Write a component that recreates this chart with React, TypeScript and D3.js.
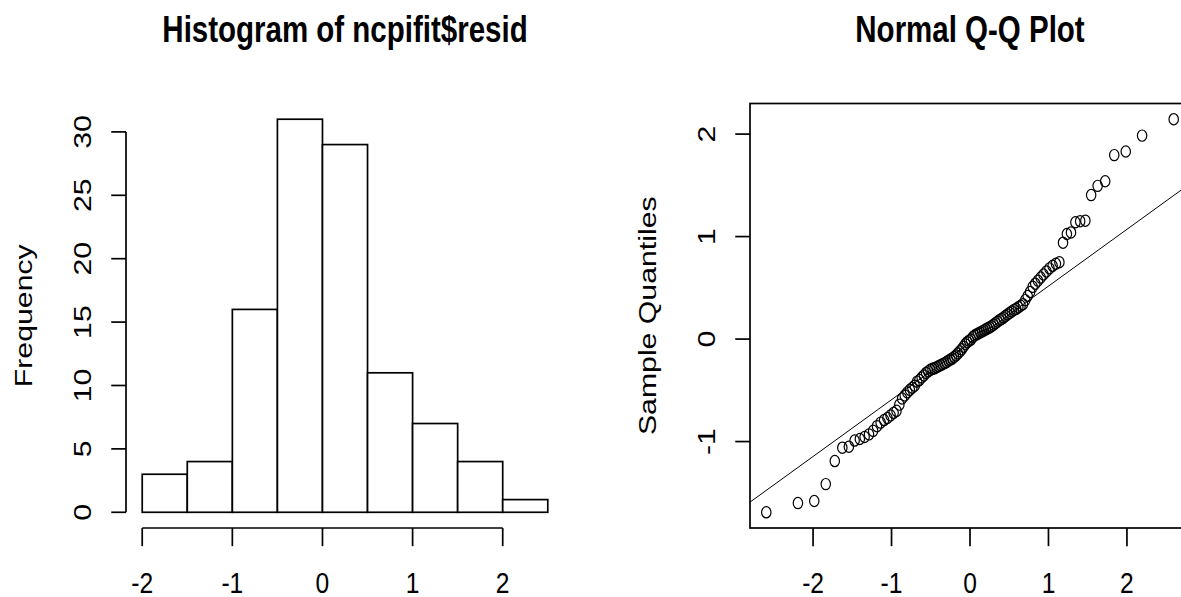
import React from "react";
import * as d3 from "d3";

// ---------- data ----------
const binEdges = [-2, -1.5, -1, -0.5, 0, 0.5, 1, 1.5, 2, 2.5];
const binCounts = [3, 4, 16, 31, 29, 11, 7, 4, 1];
const histXTicks = [-2, -1, 0, 1, 2];
const histYTicks = [0, 5, 10, 15, 20, 25, 30];
const qqXTicks = [-2, -1, 0, 1, 2];
const qqYTicks = [-1, 0, 1, 2];

// sorted residuals
const sampleQuantiles = [
  -1.69, -1.6, -1.58, -1.415, -1.19, -1.06, -1.05,
  -0.99, -0.975, -0.955, -0.93, -0.895, -0.85, -0.815, -0.79, -0.77, -0.745, -0.72, -0.7, -0.64, -0.58, -0.55, -0.52,
  -0.495, -0.475, -0.455, -0.415, -0.4, -0.375, -0.355, -0.33, -0.315, -0.3, -0.29, -0.285, -0.275, -0.265, -0.255,
  -0.245, -0.235, -0.225, -0.21, -0.2, -0.19, -0.175, -0.16, -0.14, -0.12, -0.1, -0.075, -0.05, -0.03, -0.015, -0.005,
  0.02, 0.035, 0.045, 0.055, 0.065, 0.075, 0.085, 0.095, 0.105, 0.115, 0.125, 0.14, 0.155, 0.17, 0.185, 0.195, 0.21,
  0.225, 0.24, 0.255, 0.27, 0.285, 0.295, 0.31, 0.325, 0.34, 0.38, 0.42, 0.46,
  0.51, 0.54, 0.57, 0.6, 0.63, 0.66, 0.69, 0.715, 0.735, 0.75, 0.94,
  1.025, 1.04, 1.14, 1.15, 1.155, 1.405, 1.495,
  1.54, 1.795, 1.83, 1.985,
  2.145,
];

// ---------- helpers ----------
const SY = 1.23; // vertical stretch of the original picture
const FONT = "'Liberation Sans', Arial, Helvetica, sans-serif";
const AXIS_FS = 24.6;
const TITLE_FS = 29.5;
const LINE = AXIS_FS * 1.2;

function qnorm(p: number): number {
  const a = [-3.969683028665376e1, 2.209460984245205e2, -2.759285104469687e2, 1.38357751867269e2, -3.066479806614716e1, 2.506628277459239];
  const b = [-5.447609879822406e1, 1.615858368580409e2, -1.556989798598866e2, 6.680131188771972e1, -1.328068155288572e1];
  const c = [-7.784894002430293e-3, -3.223964580411365e-1, -2.400758277161838, -2.549732539343734, 4.374664141464968, 2.938163982698783];
  const d = [7.784695709041462e-3, 3.224671290700398e-1, 2.445134137142996, 3.754408661907416];
  const plow = 0.02425;
  if (p < plow) {
    const q = Math.sqrt(-2 * Math.log(p));
    return (((((c[0] * q + c[1]) * q + c[2]) * q + c[3]) * q + c[4]) * q + c[5]) / ((((d[0] * q + d[1]) * q + d[2]) * q + d[3]) * q + 1);
  }
  if (p <= 1 - plow) {
    const q = p - 0.5;
    const r = q * q;
    return ((((((a[0] * r + a[1]) * r + a[2]) * r + a[3]) * r + a[4]) * r + a[5]) * q) / (((((b[0] * r + b[1]) * r + b[2]) * r + b[3]) * r + b[4]) * r + 1);
  }
  const q = Math.sqrt(-2 * Math.log(1 - p));
  return -(((((c[0] * q + c[1]) * q + c[2]) * q + c[3]) * q + c[4]) * q + c[5]) / ((((d[0] * q + d[1]) * q + d[2]) * q + d[3]) * q + 1);
}

const ext = (lo: number, hi: number): [number, number] => [lo - 0.04 * (hi - lo), hi + 0.04 * (hi - lo)];

const STextH = ({ x, y, size, bold, children }: any) => (
  <text
    transform={`translate(${x},${y}) scale(1,${SY})`}
    textAnchor="middle"
    fontFamily={FONT}
    fontSize={size}
    fontWeight={bold ? "bold" : "normal"}
    fill="#000"
  >
    {children}
  </text>
);

const STextV = ({ x, y, size, children }: any) => (
  <text
    transform={`translate(${x},${y}) scale(1,${SY}) rotate(-90)`}
    textAnchor="middle"
    fontFamily={FONT}
    fontSize={size}
    fill="#000"
  >
    {children}
  </text>
);

export default function App() {
  const top = 103.5;
  const bottom = 528;
  const tickX = 0.5 * LINE;
  const tickY = 0.5 * LINE * SY;
  const xLabY = bottom + 1.8 * LINE * SY;
  const titleY = top - 1.7 * LINE * SY;
  const SW = 1.7;

  // histogram
  const hL = 126, hR = 564;
  const xH = d3.scaleLinear().domain(ext(binEdges[0], binEdges[binEdges.length - 1])).range([hL, hR]);
  const yH = d3.scaleLinear().domain(ext(0, d3.max(binCounts)!)).range([bottom, top]);

  // qq
  const qL = 750, qR = 1190;
  const n = sampleQuantiles.length;
  const sorted = [...sampleQuantiles].sort((a, b) => a - b);
  const theo = sorted.map((_, i) => qnorm((i + 0.5) / n));
  const xQ = d3.scaleLinear().domain(ext(d3.min(theo)!, d3.max(theo)!)).range([qL, qR]);
  const yQ = d3.scaleLinear().domain(ext(sorted[0], sorted[n - 1])).range([bottom, top]);
  const q1 = d3.quantile(sorted, 0.25)!;
  const q3 = d3.quantile(sorted, 0.75)!;
  const slope = (q3 - q1) / (qnorm(0.75) - qnorm(0.25));
  const inter = q1 - slope * qnorm(0.25);
  const [lx0, lx1] = xQ.domain();

  return (
    <svg width={1181} height={597} style={{ position: "absolute", left: 0, top: 0, background: "#fff" }}>
      <rect x={0} y={0} width={1181} height={597} fill="#fff" />
      <defs>
        <clipPath id="qqclip">
          <rect x={qL} y={top} width={qR - qL} height={bottom - top} />
        </clipPath>
      </defs>

      {/* ---------- Histogram ---------- */}
      <STextH x={(hL + hR) / 2} y={titleY} size={TITLE_FS} bold>
        Histogram of ncpifit$resid
      </STextH>
      {binCounts.map((c, i) => (
        <rect
          key={i}
          x={xH(binEdges[i])}
          y={yH(c)}
          width={xH(binEdges[i + 1]) - xH(binEdges[i])}
          height={yH(0) - yH(c)}
          fill="#fff"
          stroke="#000"
          strokeWidth={SW}
        />
      ))}
      {/* x axis */}
      <line x1={xH(histXTicks[0])} x2={xH(histXTicks[histXTicks.length - 1])} y1={bottom} y2={bottom} stroke="#000" strokeWidth={SW} />
      {histXTicks.map((t) => (
        <g key={t}>
          <line x1={xH(t)} x2={xH(t)} y1={bottom} y2={bottom + tickY} stroke="#000" strokeWidth={SW} />
          <STextH x={xH(t)} y={xLabY} size={AXIS_FS}>{String(t)}</STextH>
        </g>
      ))}
      {/* y axis */}
      <line x1={hL} x2={hL} y1={yH(histYTicks[0])} y2={yH(histYTicks[histYTicks.length - 1])} stroke="#000" strokeWidth={SW} />
      {histYTicks.map((t) => (
        <g key={t}>
          <line x1={hL - tickX} x2={hL} y1={yH(t)} y2={yH(t)} stroke="#000" strokeWidth={SW} />
          <STextV x={hL - 1.2 * LINE} y={yH(t)} size={AXIS_FS}>{String(t)}</STextV>
        </g>
      ))}
      <STextV x={hL - 3.2 * LINE} y={(top + bottom) / 2} size={AXIS_FS}>Frequency</STextV>

      {/* ---------- Q-Q plot ---------- */}
      <STextH x={(qL + qR) / 2} y={titleY} size={TITLE_FS} bold>
        Normal Q-Q Plot
      </STextH>
      <rect x={qL} y={top} width={qR - qL} height={bottom - top} fill="none" stroke="#000" strokeWidth={SW} />
      {qqXTicks.map((t) => (
        <g key={t}>
          <line x1={xQ(t)} x2={xQ(t)} y1={bottom} y2={bottom + tickY} stroke="#000" strokeWidth={SW} />
          <STextH x={xQ(t)} y={xLabY} size={AXIS_FS}>{String(t)}</STextH>
        </g>
      ))}
      {qqYTicks.map((t) => (
        <g key={t}>
          <line x1={qL - tickX} x2={qL} y1={yQ(t)} y2={yQ(t)} stroke="#000" strokeWidth={SW} />
          <STextV x={qL - 1.2 * LINE} y={yQ(t)} size={AXIS_FS}>{String(t)}</STextV>
        </g>
      ))}
      <STextV x={qL - 3.2 * LINE} y={(top + bottom) / 2} size={AXIS_FS}>Sample Quantiles</STextV>
      <g clipPath="url(#qqclip)">
        <line
          x1={xQ(lx0)}
          y1={yQ(inter + slope * lx0)}
          x2={xQ(lx1)}
          y2={yQ(inter + slope * lx1)}
          stroke="#000"
          strokeWidth={1}
        />
      </g>
      {sorted.map((v, i) => (
        <ellipse key={i} cx={xQ(theo[i])} cy={yQ(v)} rx={4.7} ry={4.7 * SY * 0.97} fill="none" stroke="#000" strokeWidth={1.2} />
      ))}
    </svg>
  );
}
